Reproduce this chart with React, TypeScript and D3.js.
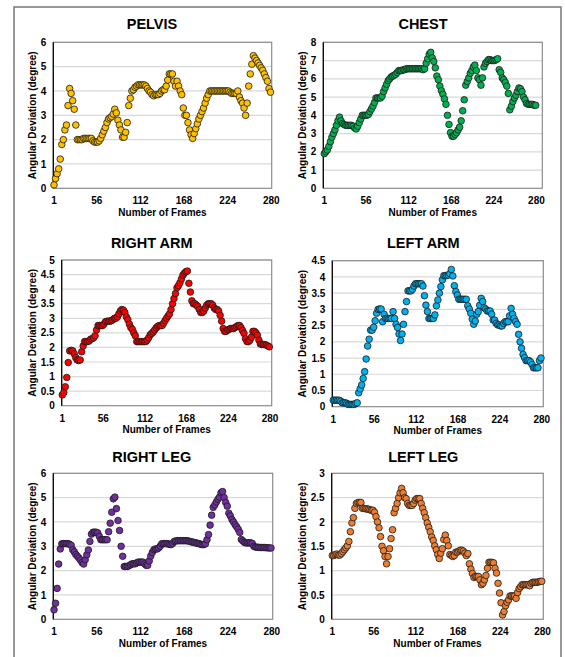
import React from 'react';
import * as d3 from 'd3';

// ---------- DATA ----------
const X_TICKS = [1, 56, 112, 168, 224, 280];
const FIRST_FRAME = 1;
const FRAME_STEP = 2;

const TITLES = ['PELVIS', 'CHEST', 'RIGHT ARM', 'LEFT ARM', 'RIGHT LEG', 'LEFT LEG'];
const Y_MAX = [6, 8, 5, 4.5, 6, 3];
const Y_STEP = [1, 1, 0.5, 0.5, 1, 0.5];

const PELVIS = [
  0.14, 0.4, 0.6, 0.8, 1.2, 1.8, 2.0, 2.4, 2.6, 3.4,
  4.1, 3.9, 3.6, 3.25, 2.6, 2.0, 2.0, 2.0, 2.0, 2.05,
  2.05, 2.05, 2.05, 2.05, 2.05, 1.95, 1.9, 1.9, 1.9, 1.95,
  2.05, 2.2, 2.35, 2.5, 2.7, 2.85, 2.9, 2.95, 3.05, 3.25,
  3.1, 2.8, 2.6, 2.4, 2.1, 2.1, 2.3, 2.7, 3.4, 3.7,
  4.0, 4.05, 4.15, 4.2, 4.25, 4.25, 4.25, 4.25, 4.25, 4.2,
  4.1, 4.0, 3.95, 3.85, 3.8, 3.85, 3.85, 3.85, 3.9, 4.0,
  4.05, 4.05, 4.2, 4.45, 4.7, 4.7, 4.7, 4.4, 4.2, 4.4,
  4.2, 4.0, 3.85, 3.3, 3.0, 3.0, 2.7, 2.4, 2.2, 2.05,
  2.25, 2.45, 2.65, 2.85, 3.0, 3.15, 3.3, 3.5, 3.7, 3.85,
  4.0, 4.0, 4.0, 4.0, 4.0, 4.0, 4.0, 4.0, 4.0, 4.0,
  4.0, 4.0, 4.0, 3.95, 3.9, 3.9, 3.9, 3.9, 4.0, 3.75,
  3.6, 3.5, 3.3, 3.0, 3.5, 4.2, 4.7, 5.1, 5.45, 5.35,
  5.25, 5.15, 5.05, 4.95, 4.85, 4.7, 4.55, 4.4, 4.1, 3.95,
];

const CHEST = [
  1.9, 2.0, 2.1, 2.3, 2.55, 2.8, 3.0, 3.2, 3.45, 3.7,
  3.9, 3.7, 3.55, 3.5, 3.45, 3.45, 3.45, 3.45, 3.45, 3.4,
  3.3, 3.25, 3.4, 3.6, 3.8, 4.0, 4.0, 4.0, 4.0, 4.05,
  4.2, 4.35, 4.5, 4.7, 4.95, 4.95, 4.95, 4.95, 5.05, 5.3,
  5.5, 5.7, 5.9, 6.0, 6.1, 6.15, 6.2, 6.25, 6.35, 6.45,
  6.45, 6.45, 6.5, 6.5, 6.55, 6.55, 6.55, 6.55, 6.55, 6.55,
  6.55, 6.55, 6.55, 6.55, 6.55, 6.5, 6.55, 6.85, 7.1, 7.35,
  7.45, 7.15, 6.95, 6.6, 6.15, 5.95, 5.6, 5.35, 5.15, 4.9,
  4.6, 4.0, 3.5, 3.05, 2.85, 2.85, 2.95, 3.05, 3.2, 3.35,
  3.7, 4.25, 4.85, 5.65, 5.85, 6.05, 6.3, 6.45, 6.65, 6.75,
  6.45, 6.05, 5.95, 5.65, 6.05, 6.65, 6.85, 6.95, 7.05, 7.05,
  7.0, 7.0, 7.0, 7.05, 7.1, 6.5, 6.35, 6.05, 5.95, 5.8,
  5.6, 5.2, 4.3, 4.5, 4.75, 4.95, 5.1, 5.3, 5.5, 5.45,
  5.3, 5.0, 4.85, 4.65, 4.6, 4.6, 4.6, 4.6, 4.55, 4.55,
];

const RIGHT_ARM = [
  0.37, 0.45, 0.65, 0.97, 1.48, 1.88, 1.9, 1.88, 1.78, 1.65,
  1.57, 1.55, 1.57, 1.85, 2.05, 2.2, 2.2, 2.2, 2.22, 2.28,
  2.3, 2.33, 2.4, 2.6, 2.75, 2.75, 2.75, 2.75, 2.8, 2.88,
  2.9, 2.9, 2.9, 2.92, 2.95, 3.0, 3.0, 3.05, 3.15, 3.25,
  3.3, 3.28, 3.2, 3.05, 2.95, 2.8, 2.68, 2.62, 2.5, 2.4,
  2.2, 2.2, 2.2, 2.2, 2.2, 2.2, 2.2, 2.25, 2.33, 2.43,
  2.48, 2.53, 2.6, 2.67, 2.72, 2.75, 2.75, 2.75, 2.83, 2.92,
  3.0, 3.08, 3.15, 3.3, 3.5, 3.68, 3.85, 4.05, 4.12, 4.22,
  4.35, 4.48, 4.55, 4.6, 4.62, 4.2, 3.9, 3.6, 3.5, 3.5,
  3.45, 3.4, 3.3, 3.2, 3.2, 3.25, 3.35, 3.45, 3.5, 3.5,
  3.5, 3.45, 3.35, 3.3, 3.3, 3.25, 3.1, 2.9, 2.65, 2.55,
  2.55, 2.6, 2.62, 2.65, 2.65, 2.65, 2.68, 2.72, 2.75, 2.75,
  2.68, 2.58, 2.48, 2.3, 2.2, 2.2, 2.25, 2.35, 2.55, 2.55,
  2.5, 2.42, 2.25, 2.12, 2.1, 2.1, 2.1, 2.08, 2.05, 2.02,
];

const LEFT_ARM = [
  0.2, 0.2, 0.2, 0.2, 0.2, 0.17, 0.12, 0.12, 0.12, 0.1,
  0.07, 0.07, 0.07, 0.07, 0.07, 0.1, 0.12, 0.43, 0.55, 0.67,
  0.87, 1.08, 1.47, 1.87, 2.08, 2.36, 2.36, 2.45, 2.65, 2.88,
  3.0, 3.01, 3.01, 2.62, 2.85, 2.72, 2.72, 2.72, 2.72, 2.72,
  2.93, 2.72, 2.54, 2.44, 2.24, 2.04, 2.24, 2.54, 2.93, 3.24,
  3.57, 3.57, 3.57, 3.62, 3.72, 3.79, 3.79, 3.79, 3.79, 3.79,
  3.72, 3.42, 3.13, 2.93, 2.72, 2.72, 2.72, 2.72, 2.83, 3.11,
  3.29, 3.5, 3.7, 3.91, 4.04, 4.04, 4.04, 4.06, 4.1, 4.23,
  4.03, 3.73, 3.55, 3.44, 3.31, 3.31, 3.31, 3.31, 3.31, 3.31,
  3.11, 3.01, 2.88, 2.7, 2.54, 2.64, 2.85, 2.93, 3.13, 3.34,
  3.24, 3.05, 3.01, 2.95, 2.95, 2.95, 2.85, 2.67, 2.67, 2.57,
  2.52, 2.52, 2.49, 2.49, 2.57, 2.62, 2.62, 2.62, 2.8, 3.03,
  2.85, 2.72, 2.62, 2.54, 2.23, 2.0, 1.8, 1.61, 1.51, 1.42,
  1.42, 1.42, 1.38, 1.3, 1.2, 1.2, 1.2, 1.2, 1.42, 1.5,
];

const RIGHT_LEG = [
  0.39, 0.66, 1.27, 2.27, 2.89, 3.1, 3.11, 3.11, 3.11, 3.11,
  3.08, 3.04, 2.86, 2.77, 2.66, 2.59, 2.52, 2.43, 2.33, 2.27,
  2.45, 2.65, 2.85, 3.2, 3.5, 3.58, 3.58, 3.58, 3.55, 3.41,
  3.27, 3.27, 3.27, 3.27, 3.27, 3.6, 3.95, 4.4, 4.95, 5.02,
  4.55, 4.06, 3.65, 3.0, 2.59, 2.17, 2.17, 2.17, 2.2, 2.24,
  2.28, 2.28, 2.28, 2.32, 2.35, 2.35, 2.35, 2.35, 2.28, 2.22,
  2.22, 2.4, 2.6, 2.75, 2.86, 2.89, 2.89, 2.93, 3.0, 3.1,
  3.11, 3.11, 3.11, 3.1, 3.08, 3.07, 3.12, 3.2, 3.22, 3.23,
  3.23, 3.23, 3.23, 3.23, 3.23, 3.23, 3.22, 3.2, 3.18, 3.17,
  3.15, 3.14, 3.12, 3.11, 3.08, 3.07, 3.07, 3.1, 3.27, 3.48,
  3.87, 4.28, 4.6, 4.7, 4.82, 4.93, 5.02, 5.2, 5.25, 5.0,
  4.8, 4.65, 4.36, 4.25, 4.1, 4.0, 3.89, 3.8, 3.7, 3.57,
  3.28, 3.22, 3.16, 3.14, 3.14, 3.14, 3.14, 3.12, 3.0, 2.97,
  2.96, 2.96, 2.95, 2.95, 2.95, 2.95, 2.94, 2.94, 2.93, 2.93,
];

const LEFT_LEG = [
  1.31, 1.31, 1.33, 1.34, 1.32, 1.32, 1.35, 1.39, 1.43, 1.47,
  1.51, 1.6, 1.8, 1.98, 2.09, 2.28, 2.38, 2.4, 2.4, 2.4,
  2.28, 2.28, 2.27, 2.27, 2.26, 2.25, 2.24, 2.24, 2.2, 2.11,
  2.0, 1.88, 1.7, 1.5, 1.41, 1.29, 1.14, 1.29, 1.45, 1.66,
  1.84, 2.19, 2.28, 2.38, 2.5, 2.6, 2.69, 2.6, 2.5, 2.48,
  2.38, 2.34, 2.34, 2.34, 2.38, 2.45, 2.48, 2.48, 2.48, 2.38,
  2.28, 2.19, 2.09, 1.98, 1.89, 1.8, 1.69, 1.62, 1.51, 1.43,
  1.33, 1.25, 1.36, 1.45, 1.64, 1.73, 1.62, 1.51, 1.33, 1.31,
  1.29, 1.31, 1.38, 1.38, 1.4, 1.42, 1.42, 1.4, 1.36, 1.31,
  1.35, 1.14, 1.03, 0.94, 0.86, 0.88, 0.88, 0.88, 0.81, 0.71,
  0.74, 0.81, 0.9, 1.05, 1.17, 1.17, 1.17, 1.16, 1.05, 0.95,
  0.74, 0.54, 0.34, 0.09, 0.16, 0.28, 0.35, 0.4, 0.48, 0.48,
  0.48, 0.48, 0.43, 0.55, 0.63, 0.67, 0.71, 0.71, 0.71, 0.71,
  0.71, 0.69, 0.74, 0.76, 0.76, 0.76, 0.76, 0.77, 0.78, 0.78,
];

const SERIES = [PELVIS, CHEST, RIGHT_ARM, LEFT_ARM, RIGHT_LEG, LEFT_LEG];

// ---------- STYLE / LAYOUT ----------
const COLORS = ['#FFC000', '#00B050', '#FF0000', '#00B0F0', '#7030A0', '#ED7D31'];

const LAYOUT = [
  { left: 53.3, right: 271.7, top: 42.3, bottom: 188.3, xd: [0.1, 280.5], titleX: 152, titleY: 24, yTitleX: 32 },
  { left: 323.3, right: 542.3, top: 42.3, bottom: 188.3, xd: [-0.3, 287.7], titleX: 423, titleY: 24, yTitleX: 302.7 },
  { left: 61.7, right: 271.7, top: 260, bottom: 405.7, xd: [0.2, 282.2], titleX: 151.7, titleY: 242.7, yTitleX: 32.3 },
  { left: 332.3, right: 543.3, top: 260.7, bottom: 406.7, xd: [-0.34, 282.1], titleX: 423.3, titleY: 242.7, yTitleX: 302.7 },
  { left: 53.3, right: 272.7, top: 473.3, bottom: 619.3, xd: [0.1, 281.2], titleX: 151.7, titleY: 456.7, yTitleX: 32.3 },
  { left: 331.7, right: 543.3, top: 473.3, bottom: 619.3, xd: [0.2, 281.1], titleX: 423.3, titleY: 456.7, yTitleX: 302.7 },
];

const FONT = "'Liberation Sans', Arial, sans-serif";

function Panel({ idx }: { idx: number }) {
  const L = LAYOUT[idx];
  const values = SERIES[idx];
  const x = d3.scaleLinear().domain(L.xd).range([L.left, L.right]);
  const y = d3.scaleLinear().domain([0, Y_MAX[idx]]).range([L.bottom, L.top]);
  const yTicks = d3.range(0, Y_MAX[idx] + Y_STEP[idx] / 2, Y_STEP[idx]).map((v) => +v.toFixed(2));
  const cx = (L.left + L.right) / 2;
  const cy = (L.top + L.bottom) / 2;
  return (
    <g>
      <text x={L.titleX} y={L.titleY + 5} textAnchor="middle" fontFamily={FONT} fontWeight="bold" fontSize={14.5} fill="#000">
        {TITLES[idx]}
      </text>
      {yTicks.filter((v) => v > 0).map((v) => (
        <line key={'g' + v} x1={L.left} x2={L.right} y1={y(v)} y2={y(v)} stroke="#d9d9d9" strokeWidth={1.2} />
      ))}
      <rect x={L.left} y={L.top} width={L.right - L.left} height={L.bottom - L.top} fill="none" stroke="#8c8c8c" strokeWidth={1.2} />
      <line x1={L.left} x2={L.left} y1={L.top} y2={L.bottom} stroke="#000" strokeWidth={1.2} />
      {yTicks.map((v) => (
        <text key={'y' + v} x={L.left - 7} y={y(v) + 3.6} textAnchor="end" fontFamily={FONT} fontWeight="bold" fontSize={10} fill="#000">
          {String(v)}
        </text>
      ))}
      {X_TICKS.map((v) => (
        <text key={'x' + v} x={x(v)} y={L.bottom + 16} textAnchor="middle" fontFamily={FONT} fontWeight="bold" fontSize={10} fill="#000">
          {String(v)}
        </text>
      ))}
      <text x={cx} y={L.bottom + 27.5} textAnchor="middle" fontFamily={FONT} fontWeight="bold" fontSize={10} fill="#000">
        Number of Frames
      </text>
      <text
        transform={`translate(${L.yTitleX + 3.5},${cy}) rotate(-90)`}
        textAnchor="middle"
        fontFamily={FONT}
        fontWeight="bold"
        fontSize={10}
        fill="#000"
      >
        Angular Deviation (degree)
      </text>
      {values.map((v, i) => (
        <circle
          key={i}
          cx={x(FIRST_FRAME + i * FRAME_STEP)}
          cy={y(v)}
          r={3.3}
          fill={COLORS[idx]}
          stroke="#1a1a1a"
          strokeWidth={0.8}
        />
      ))}
    </g>
  );
}

export default function App() {
  return (
    <svg
      width={565}
      height={657}
      viewBox="0 0 565 657"
      style={{ position: 'absolute', left: 0, top: 0, background: '#fff' }}
    >
      <rect x={0} y={0} width={565} height={657} fill="#fff" />
      <rect x={14} y={7} width={547} height={700} fill="none" stroke="#7f7f7f" strokeWidth={1.6} />
      {SERIES.map((_, i) => (
        <Panel key={i} idx={i} />
      ))}
    </svg>
  );
}
